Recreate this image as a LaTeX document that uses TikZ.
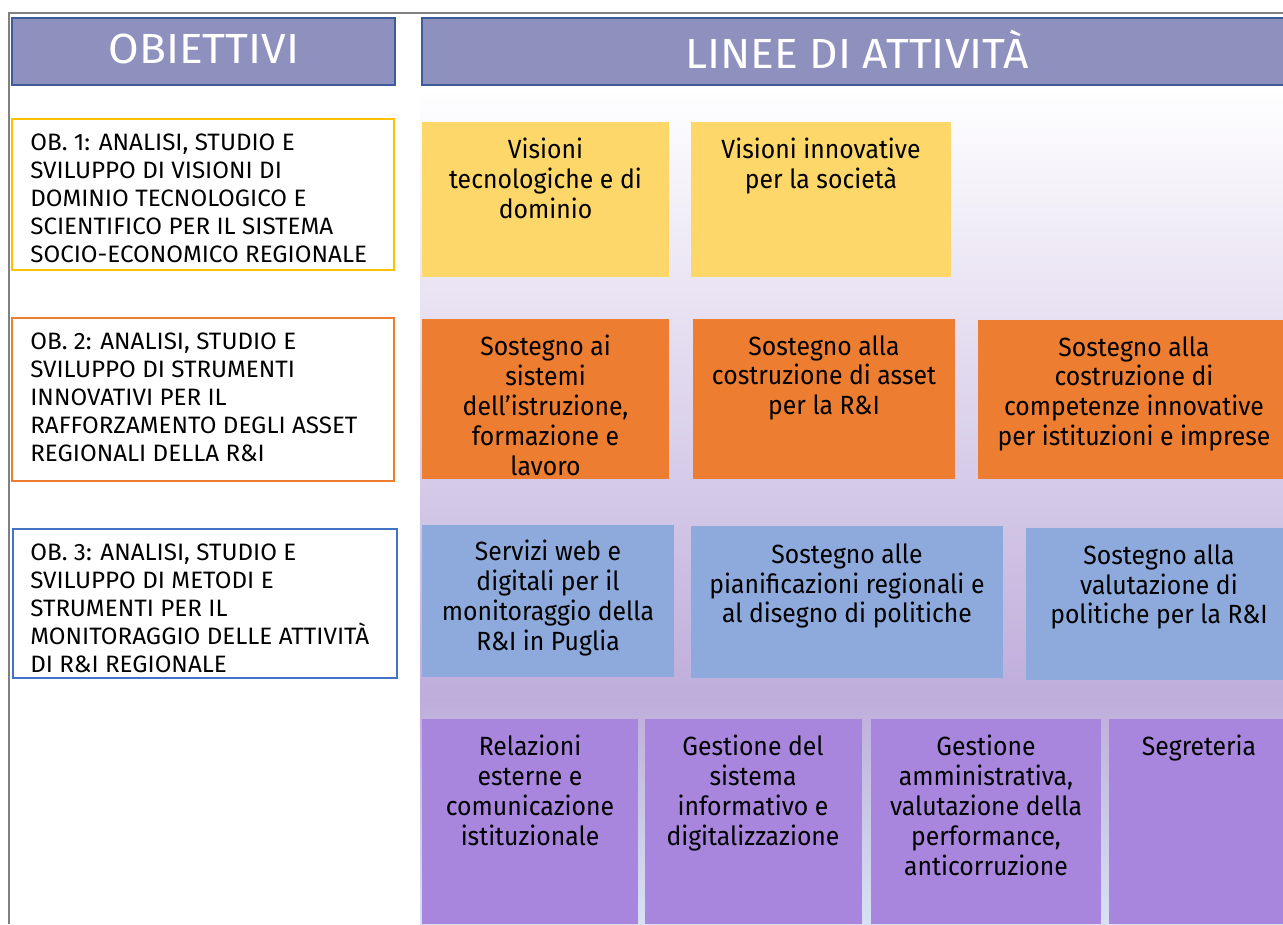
\documentclass[tikz,border=0pt]{standalone}
\usepackage{fontspec}
\setmainfont{Fira Sans}
\newfontfamily\actfont[FakeStretch=0.94]{Fira Sans}
\newfontfamily\obfont[FakeStretch=1.02]{Fira Sans}
\newfontfamily\hdrfont[FakeStretch=1.05]{Fira Sans}
\usepackage{xcolor}

\definecolor{hdrfill}{HTML}{8E90BE}
\definecolor{hdrdraw}{HTML}{3E5C9A}
\definecolor{actyellow}{HTML}{FDD769}
\definecolor{actorange}{HTML}{ED7D31}
\definecolor{actblue}{HTML}{8EAADC}
\definecolor{actpurple}{HTML}{A986DD}
\definecolor{bgmid}{HTML}{BEADDB}
\definecolor{bgbottom}{HTML}{D6E2F4}
\definecolor{obyellow}{HTML}{FFC000}
\definecolor{obblue}{HTML}{4472C4}

\tikzset{
  header/.style={fill=hdrfill, draw=hdrdraw, line width=1.2pt},
  hdrtext/.style={text=white, font=\hdrfont\fontsize{24}{28}\selectfont, inner sep=0pt},
  obtext/.style={anchor=north west, align=left, inner sep=0pt,
    font=\obfont\fontsize{13.5}{15.9}\selectfont},
  acttext/.style={anchor=north, align=center, inner sep=0pt,
    font=\actfont\fontsize{15}{17}\selectfont}
}

\begin{document}
\begin{tikzpicture}[x=0.02cm, y=-0.02cm]
  \useasboundingbox (0,0) rectangle (1283,924);

  % background of the activity lines
  \shade[top color=white, bottom color=bgmid] (420,88) rectangle (1283,700);
  \shade[top color=bgmid, bottom color=bgbottom] (420,700) rectangle (1283,924);

  % outer frame
  \draw[gray, line width=1pt] (9,924) -- (9,13) -- (1283,13);

  % headers
  \draw[header] (12,18) rectangle (395,85);
  \draw[header] (422,18) rectangle (1295,85);
  \node[hdrtext] (hobj) at (204,49) {OBIETTIVI};
  \node[hdrtext] (hlin) at (857,49) {LINEE DI ATTIVITÀ};

  % objectives
  \draw[obyellow, line width=0.8pt] (12,119) rectangle (394,270);
  \node[obtext] (ob1) at (30,134) {OB. 1: ANALISI, STUDIO E\\SVILUPPO DI VISIONI DI\\DOMINIO TECNOLOGICO E\\SCIENTIFICO PER IL SISTEMA\\SOCIO-ECONOMICO REGIONALE};
  \draw[actorange, line width=0.8pt] (12,318) rectangle (394,481);
  \node[obtext] (ob2) at (30,333) {OB. 2: ANALISI, STUDIO E\\SVILUPPO DI STRUMENTI\\INNOVATIVI PER IL\\RAFFORZAMENTO DEGLI ASSET\\REGIONALI DELLA R\&I};
  \draw[obblue, line width=0.8pt] (13,529) rectangle (397,678);
  \node[obtext] (ob3) at (30,544) {OB. 3: ANALISI, STUDIO E\\SVILUPPO DI METODI E\\STRUMENTI PER IL\\MONITORAGGIO DELLE ATTIVITÀ\\DI R\&I REGIONALE};

  % row 1
  \fill[actyellow] (422,122) rectangle (669,277);
  \node[acttext] (vis1) at (545.5,138) {Visioni\\tecnologiche e di\\dominio};
  \fill[actyellow] (691,122) rectangle (951,277);
  \node[acttext] (vis2) at (821,138) {Visioni innovative\\per la società};

  % row 2
  \fill[actorange] (422,319) rectangle (669,479);
  \node[acttext] (sos1) at (545.5,335) {Sostegno ai\\sistemi\\dell’istruzione,\\formazione e\\lavoro};
  \fill[actorange] (693,319) rectangle (955,479);
  \node[acttext] (sos2) at (824,335) {Sostegno alla\\costruzione di asset\\per la R\&I};
  \fill[actorange] (978,320) rectangle (1290,479);
  \node[acttext] (sos3) at (1134,336) {Sostegno alla\\costruzione di\\competenze innovative\\per istituzioni e imprese};

  % row 3
  \fill[actblue] (422,525) rectangle (674,677);
  \node[acttext] (web) at (548,540) {Servizi web e\\digitali per il\\monitoraggio della\\R\&I in Puglia};
  \fill[actblue] (691,526) rectangle (1003,678);
  \node[acttext] (pian) at (847,543) {Sostegno alle\\pianificazioni regionali e\\al disegno di politiche};
  \fill[actblue] (1026,528) rectangle (1292,680);
  \node[acttext] (valu) at (1159,544) {Sostegno alla\\valutazione di\\politiche per la R\&I};

  % row 4
  \fill[actpurple] (422,719) rectangle (638,924);
  \node[acttext] (rel) at (530,735) {Relazioni\\esterne e\\comunicazione\\istituzionale};
  \fill[actpurple] (645,719) rectangle (862,924);
  \node[acttext] (sis) at (753,735) {Gestione del\\sistema\\informativo e\\digitalizzazione};
  \fill[actpurple] (871,719) rectangle (1101,924);
  \node[acttext] (amm) at (986,735) {Gestione\\amministrativa,\\valutazione della\\performance,\\anticorruzione};
  \fill[actpurple] (1109,719) rectangle (1292,924);
  \node[acttext] (seg) at (1199,735) {Segreteria};
\end{tikzpicture}
\end{document}
